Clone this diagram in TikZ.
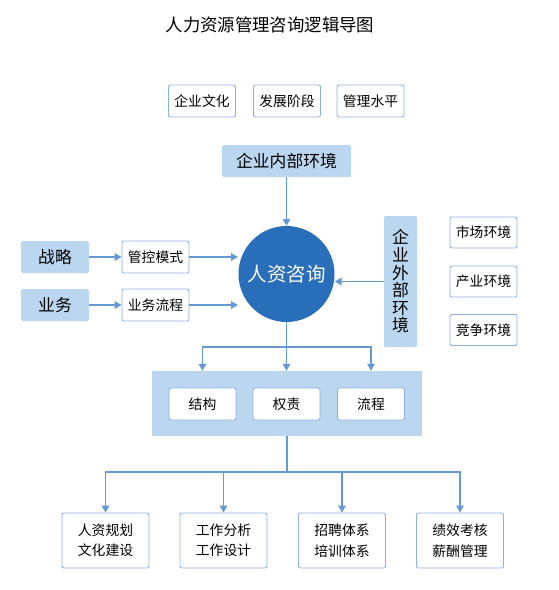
\documentclass[tikz,border=0pt]{standalone}
\usepackage{fontspec}
\setmainfont{Noto Sans CJK SC}
\usepackage{tikz}
\usetikzlibrary{arrows.meta, positioning, calc}
\definecolor{hrblue}{RGB}{41, 110, 184}
\definecolor{paleblue}{RGB}{187, 214, 239}
\definecolor{lineblue}{RGB}{102, 152, 212}
\definecolor{edgeblue}{RGB}{142, 178, 222}

\begin{document}
\begin{tikzpicture}[x=1pt, y=-1pt,
  box/.style={draw=edgeblue, line width=0.9pt, fill=white, rounded corners=2pt,
    font=\fontsize{13.8}{20.5}\selectfont, inner sep=2pt, align=center,
    minimum width=67pt, minimum height=32pt},
  tag/.style={fill=paleblue, rounded corners=1.5pt, font=\fontsize{16.8}{17.6}\selectfont,
    inner sep=2pt, align=center},
  arr/.style={-{Triangle[length=7pt, width=7.5pt]}, lineblue, line width=1.7pt},
  link/.style={lineblue, line width=1.7pt},
]
\useasboundingbox (0,0) rectangle (559,590);

% Title
\node[font=\fontsize{17.4}{19}\selectfont] (title) at (270,25) {人力资源管理咨询逻辑导图};

% Internal factors
\node[box] (culture) at (202,101) {企业文化};
\node[box] (stage) at (287,101) {发展阶段};
\node[box] (level) at (370.5,101) {管理水平};
\node[tag, minimum width=129pt, minimum height=32pt] (inner) at (286.5,161) {企业内部环境};

% Core circle
\node[circle, fill=hrblue, minimum size=96pt, inner sep=0pt, text=white,
      font=\fontsize{19.5}{22}\selectfont] (hr) at (286.5,274) {人资咨询};
\draw[arr] (inner.south) -- (hr.north);

% Strategy and business
\node[tag, minimum width=68pt, minimum height=32pt] (strategy) at (55,257) {战略};
\node[tag, minimum width=68pt, minimum height=32pt] (business) at (55,305) {业务};
\node[box] (control) at (155.5,257) {管控模式};
\node[box] (process) at (155.5,305) {业务流程};
\coordinate (inA) at (238,257);
\coordinate (inB) at (238,305);
\draw[arr] (strategy.east) -- (control.west);
\draw[arr] (business.east) -- (process.west);
\draw[arr] (control.east) -- (inA);
\draw[arr] (process.east) -- (inB);

% External factors
\node[tag, minimum width=33pt, minimum height=131pt, text width=17pt] (outer) at (400.5,281.5)
  {企\\业\\外\\部\\环\\境};
\draw[arr] (outer.west) -- (hr.east |- outer.west);
\node[box, minimum height=31pt] (market) at (483.5,232.5) {市场环境};
\node[box, minimum height=31pt] (industry) at (483.5,281.5) {产业环境};
\node[box, minimum height=31pt] (rival) at (483.5,330) {竞争环境};

% Organisation band
\node[fill=paleblue, minimum width=270pt, minimum height=65pt] (band) at (287,403.5) {};
\node[box] (struct) at (202.5,404) {结构};
\node[box] (duty) at (286.5,404) {权责};
\node[box] (flow) at (371,404) {流程};
\coordinate (fork) at (286.5,347);
\draw[link] (hr.south) -- (fork);
\draw[arr] (fork) -- (fork |- band.north);
\draw[arr] (fork) -| (struct.north |- band.north);
\draw[arr] (fork) -| (flow.north |- band.north);

% HR functions
\node[box, minimum width=87pt, minimum height=55pt] (plan) at (105.5,540.5) {人资规划\\文化建设};
\node[box, minimum width=87pt, minimum height=55pt] (job) at (223.5,540.5) {工作分析\\工作设计};
\node[box, minimum width=87pt, minimum height=55pt] (hire) at (342,540.5) {招聘体系\\培训体系};
\node[box, minimum width=87pt, minimum height=55pt] (pay) at (460,540.5) {绩效考核\\薪酬管理};
\coordinate (fork2) at (287,472);
\draw[link] (band.south) -- (fork2);
\foreach \n in {plan, job, hire, pay}
  \draw[arr] (fork2) -| (\n.north);
\end{tikzpicture}
\end{document}
